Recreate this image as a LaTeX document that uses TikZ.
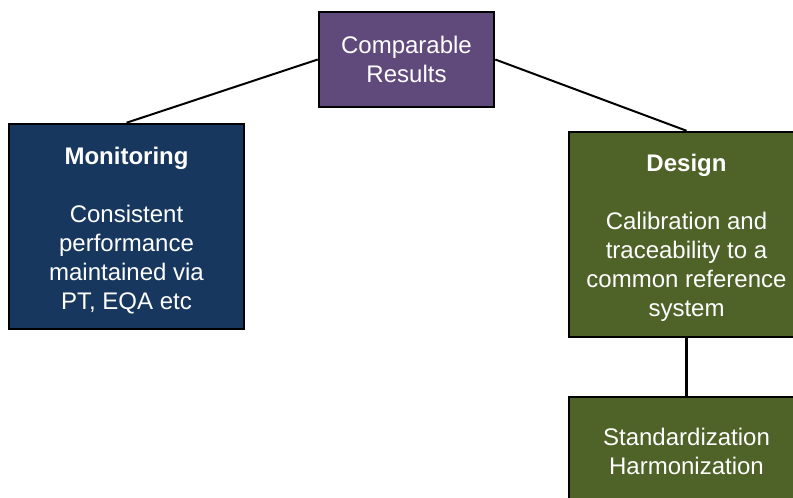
\documentclass[tikz,border=0pt]{standalone}
\usepackage{fontspec}
\setmainfont{Liberation Sans}
\definecolor{resultpurple}{HTML}{604A7B}
\definecolor{monitorblue}{HTML}{17375E}
\definecolor{designgreen}{HTML}{4F6228}
\begin{document}
\begin{tikzpicture}[x=1pt,y=-1pt,
  box/.style={draw=black, line width=2.5pt, inner sep=0pt},
  txt/.style={text=white, align=center, inner sep=0pt,
    font=\fontsize{24}{29}\selectfont},
  link/.style={draw=black, line width=2pt}]
\useasboundingbox (0,0) rectangle (793,498);
\clip (0,0) rectangle (793,498);
\fill[white] (0,0) rectangle (793,498);

% boxes
\node[box, fill=resultpurple, minimum width=175pt, minimum height=95pt]
  (res) at (406.5,59.5) {};
\node[box, fill=monitorblue, minimum width=235pt, minimum height=205pt]
  (mon) at (126.5,226.5) {};
\node[box, fill=designgreen, minimum width=235pt, minimum height=205pt]
  (des) at (686.5,234.5) {};
\node[box, fill=designgreen, minimum width=235pt, minimum height=110pt]
  (std) at (686.5,452) {};

% box texts
\node[txt] (restxt) at (res.center) {Comparable\\Results};
\node[txt, yshift=-4.5pt] (montxt) at (mon.center)
  {\textbf{Monitoring}\\[29pt]Consistent\\performance\\maintained via\\PT, EQA etc};
\node[txt, yshift=-3.5pt] (destxt) at (des.center)
  {\textbf{Design}\\[29pt]Calibration and\\traceability to a\\common reference\\system};
\node[txt, yshift=0.5pt] (stdtxt) at (std.center) {Standardization\\Harmonization};

% connectors
\draw[link] (res.west) -- (mon.north);
\draw[link] (res.east) -- (des.north);
\draw[link, line width=2.5pt] (des.south) -- (std.north);
\end{tikzpicture}
\end{document}
